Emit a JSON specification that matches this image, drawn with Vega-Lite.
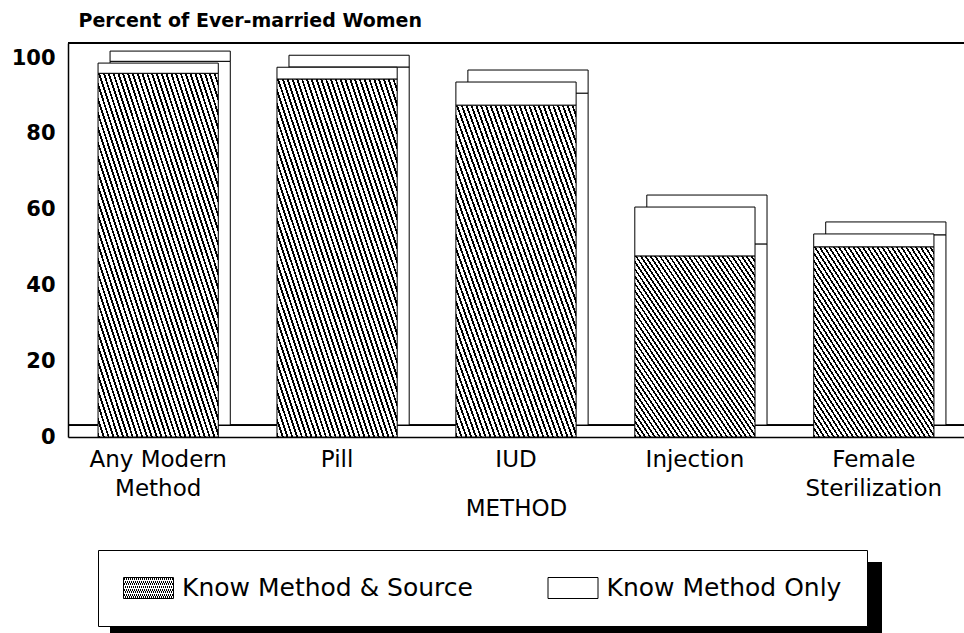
{
  "$schema": "https://vega.github.io/schema/vega-lite/v6.json",
  "width": 896,
  "height": 394,
  "autosize": {"type": "none"},
  "padding": {"left": 68, "top": 43, "right": 0, "bottom": 196},
  "background": "white",
  "data": {
    "values": [
      {"method": "Any Modern Method", "series": "Know Method & Source", "value": 96.0},
      {"method": "Any Modern Method", "series": "Know Method Only", "value": 2.7},
      {"method": "Pill", "series": "Know Method & Source", "value": 94.5},
      {"method": "Pill", "series": "Know Method Only", "value": 3.1},
      {"method": "IUD", "series": "Know Method & Source", "value": 87.6},
      {"method": "IUD", "series": "Know Method Only", "value": 6.1},
      {"method": "Injection", "series": "Know Method & Source", "value": 47.8},
      {"method": "Injection", "series": "Know Method Only", "value": 12.9},
      {"method": "Female Sterilization", "series": "Know Method & Source", "value": 50.2},
      {"method": "Female Sterilization", "series": "Know Method Only", "value": 3.4}
    ]
  },
  "layer": [
    {
      "mark": {"type": "rule", "color": "black", "strokeWidth": 1},
      "encoding": {"y": {"datum": 3.1}}
    },
    {
      "mark": {"type": "rule", "color": "black", "strokeWidth": 1.5},
      "encoding": {"y": {"datum": 104}}
    },
    {
      "mark": {"type": "bar", "fill": "white", "stroke": "black", "strokeWidth": 1, "xOffset": 12, "yOffset": -12},
      "encoding": {
        "x": {"field": "method", "type": "nominal", "sort": ["Any Modern Method", "Pill", "IUD", "Injection", "Female Sterilization"]},
        "y": {"field": "value", "type": "quantitative", "stack": "zero"},
        "detail": {"field": "series"},
        "order": {"field": "series", "sort": "ascending"}
      }
    },
    {
      "mark": {"type": "bar", "strokeWidth": 1},
      "encoding": {
        "x": {
          "field": "method", "type": "nominal",
          "sort": ["Any Modern Method", "Pill", "IUD", "Injection", "Female Sterilization"],
          "scale": {"paddingInner": 0.328, "paddingOuter": 0.168},
          "axis": {
            "title": "METHOD", "titleFontSize": 23, "titleFontWeight": "normal", "titleColor": "black",
            "titleY": 71, "titleBaseline": "middle",
            "labelFontSize": 23, "labelColor": "black", "labelPadding": 22, "labelLineHeight": 29,
            "labelAngle": 0, "labelAlign": "center", "labelOverlap": false, "labelLimit": 0, "ticks": false,
            "domain": true, "domainColor": "black", "domainWidth": 1.5,
            "labelExpr": "datum.value == 'Any Modern Method' ? ['Any Modern', 'Method'] : datum.value == 'Female Sterilization' ? ['Female', 'Sterilization'] : datum.value"
          }
        },
        "y": {
          "field": "value", "type": "quantitative", "stack": "zero",
          "scale": {"domain": [0, 104], "nice": false},
          "axis": {
            "values": [0, 20, 40, 60, 80, 100],
            "title": "Percent of Ever-married Women", "titleAngle": 0, "titleAlign": "left", "titleBaseline": "middle",
            "titleX": 10, "titleY": -23, "titleFontSize": 19, "titleFontWeight": "bold", "titleColor": "black",
            "labelFontSize": 21, "labelFontWeight": "bold", "labelColor": "black", "labelPadding": 13,
            "ticks": false, "domain": true, "domainColor": "black", "domainWidth": 1.5, "grid": false
          }
        },
        "order": {"field": "series", "sort": "ascending"},
        "fill": {
          "field": "series", "type": "nominal",
          "scale": {
            "domain": ["Know Method & Source", "Know Method Only"],
            "range": [
              {"expr": "{gradient:'linear',x1:0,y1:1,x2:1,y2:0,stops:[{offset:0,color:'#000'},{offset:0.008,color:'#000'},{offset:0.008,color:'#fff'},{offset:0.02,color:'#fff'},{offset:0.02,color:'#000'},{offset:0.028,color:'#000'},{offset:0.028,color:'#fff'},{offset:0.04,color:'#fff'},{offset:0.04,color:'#000'},{offset:0.048,color:'#000'},{offset:0.048,color:'#fff'},{offset:0.06,color:'#fff'},{offset:0.06,color:'#000'},{offset:0.068,color:'#000'},{offset:0.068,color:'#fff'},{offset:0.08,color:'#fff'},{offset:0.08,color:'#000'},{offset:0.088,color:'#000'},{offset:0.088,color:'#fff'},{offset:0.1,color:'#fff'},{offset:0.1,color:'#000'},{offset:0.108,color:'#000'},{offset:0.108,color:'#fff'},{offset:0.12,color:'#fff'},{offset:0.12,color:'#000'},{offset:0.128,color:'#000'},{offset:0.128,color:'#fff'},{offset:0.14,color:'#fff'},{offset:0.14,color:'#000'},{offset:0.148,color:'#000'},{offset:0.148,color:'#fff'},{offset:0.16,color:'#fff'},{offset:0.16,color:'#000'},{offset:0.168,color:'#000'},{offset:0.168,color:'#fff'},{offset:0.18,color:'#fff'},{offset:0.18,color:'#000'},{offset:0.188,color:'#000'},{offset:0.188,color:'#fff'},{offset:0.2,color:'#fff'},{offset:0.2,color:'#000'},{offset:0.208,color:'#000'},{offset:0.208,color:'#fff'},{offset:0.22,color:'#fff'},{offset:0.22,color:'#000'},{offset:0.228,color:'#000'},{offset:0.228,color:'#fff'},{offset:0.24,color:'#fff'},{offset:0.24,color:'#000'},{offset:0.248,color:'#000'},{offset:0.248,color:'#fff'},{offset:0.26,color:'#fff'},{offset:0.26,color:'#000'},{offset:0.268,color:'#000'},{offset:0.268,color:'#fff'},{offset:0.28,color:'#fff'},{offset:0.28,color:'#000'},{offset:0.288,color:'#000'},{offset:0.288,color:'#fff'},{offset:0.3,color:'#fff'},{offset:0.3,color:'#000'},{offset:0.308,color:'#000'},{offset:0.308,color:'#fff'},{offset:0.32,color:'#fff'},{offset:0.32,color:'#000'},{offset:0.328,color:'#000'},{offset:0.328,color:'#fff'},{offset:0.34,color:'#fff'},{offset:0.34,color:'#000'},{offset:0.348,color:'#000'},{offset:0.348,color:'#fff'},{offset:0.36,color:'#fff'},{offset:0.36,color:'#000'},{offset:0.368,color:'#000'},{offset:0.368,color:'#fff'},{offset:0.38,color:'#fff'},{offset:0.38,color:'#000'},{offset:0.388,color:'#000'},{offset:0.388,color:'#fff'},{offset:0.4,color:'#fff'},{offset:0.4,color:'#000'},{offset:0.408,color:'#000'},{offset:0.408,color:'#fff'},{offset:0.42,color:'#fff'},{offset:0.42,color:'#000'},{offset:0.428,color:'#000'},{offset:0.428,color:'#fff'},{offset:0.44,color:'#fff'},{offset:0.44,color:'#000'},{offset:0.448,color:'#000'},{offset:0.448,color:'#fff'},{offset:0.46,color:'#fff'},{offset:0.46,color:'#000'},{offset:0.468,color:'#000'},{offset:0.468,color:'#fff'},{offset:0.48,color:'#fff'},{offset:0.48,color:'#000'},{offset:0.488,color:'#000'},{offset:0.488,color:'#fff'},{offset:0.5,color:'#fff'},{offset:0.5,color:'#000'},{offset:0.508,color:'#000'},{offset:0.508,color:'#fff'},{offset:0.52,color:'#fff'},{offset:0.52,color:'#000'},{offset:0.528,color:'#000'},{offset:0.528,color:'#fff'},{offset:0.54,color:'#fff'},{offset:0.54,color:'#000'},{offset:0.548,color:'#000'},{offset:0.548,color:'#fff'},{offset:0.56,color:'#fff'},{offset:0.56,color:'#000'},{offset:0.568,color:'#000'},{offset:0.568,color:'#fff'},{offset:0.58,color:'#fff'},{offset:0.58,color:'#000'},{offset:0.588,color:'#000'},{offset:0.588,color:'#fff'},{offset:0.6,color:'#fff'},{offset:0.6,color:'#000'},{offset:0.608,color:'#000'},{offset:0.608,color:'#fff'},{offset:0.62,color:'#fff'},{offset:0.62,color:'#000'},{offset:0.628,color:'#000'},{offset:0.628,color:'#fff'},{offset:0.64,color:'#fff'},{offset:0.64,color:'#000'},{offset:0.648,color:'#000'},{offset:0.648,color:'#fff'},{offset:0.66,color:'#fff'},{offset:0.66,color:'#000'},{offset:0.668,color:'#000'},{offset:0.668,color:'#fff'},{offset:0.68,color:'#fff'},{offset:0.68,color:'#000'},{offset:0.688,color:'#000'},{offset:0.688,color:'#fff'},{offset:0.7,color:'#fff'},{offset:0.7,color:'#000'},{offset:0.708,color:'#000'},{offset:0.708,color:'#fff'},{offset:0.72,color:'#fff'},{offset:0.72,color:'#000'},{offset:0.728,color:'#000'},{offset:0.728,color:'#fff'},{offset:0.74,color:'#fff'},{offset:0.74,color:'#000'},{offset:0.748,color:'#000'},{offset:0.748,color:'#fff'},{offset:0.76,color:'#fff'},{offset:0.76,color:'#000'},{offset:0.768,color:'#000'},{offset:0.768,color:'#fff'},{offset:0.78,color:'#fff'},{offset:0.78,color:'#000'},{offset:0.788,color:'#000'},{offset:0.788,color:'#fff'},{offset:0.8,color:'#fff'},{offset:0.8,color:'#000'},{offset:0.808,color:'#000'},{offset:0.808,color:'#fff'},{offset:0.82,color:'#fff'},{offset:0.82,color:'#000'},{offset:0.828,color:'#000'},{offset:0.828,color:'#fff'},{offset:0.84,color:'#fff'},{offset:0.84,color:'#000'},{offset:0.848,color:'#000'},{offset:0.848,color:'#fff'},{offset:0.86,color:'#fff'},{offset:0.86,color:'#000'},{offset:0.868,color:'#000'},{offset:0.868,color:'#fff'},{offset:0.88,color:'#fff'},{offset:0.88,color:'#000'},{offset:0.888,color:'#000'},{offset:0.888,color:'#fff'},{offset:0.9,color:'#fff'},{offset:0.9,color:'#000'},{offset:0.908,color:'#000'},{offset:0.908,color:'#fff'},{offset:0.92,color:'#fff'},{offset:0.92,color:'#000'},{offset:0.928,color:'#000'},{offset:0.928,color:'#fff'},{offset:0.94,color:'#fff'},{offset:0.94,color:'#000'},{offset:0.948,color:'#000'},{offset:0.948,color:'#fff'},{offset:0.96,color:'#fff'},{offset:0.96,color:'#000'},{offset:0.968,color:'#000'},{offset:0.968,color:'#fff'},{offset:0.98,color:'#fff'},{offset:0.98,color:'#000'},{offset:0.988,color:'#000'},{offset:0.988,color:'#fff'},{offset:1,color:'#fff'}]}"},
              "white"
            ]
          },
          "legend": {
            "title": null, "orient": "none", "legendX": 30, "legendY": 507, "zindex": 2,
            "direction": "horizontal", "columns": 2, "columnPadding": 72.5,
            "labelFont": "DejaVu Sans", "labelFontSize": 25, "labelColor": "black", "labelOffset": 33, "labelLimit": 0,
            "symbolType": "M-1,-0.84H3V0.84H-1Z", "symbolSize": 625,
            "symbolStrokeColor": "black", "symbolStrokeWidth": 1, "symbolOpacity": 1,
            "padding": 25, "fillColor": "white", "strokeColor": "black"
          }
        },
        "stroke": {
          "field": "series", "type": "nominal",
          "scale": {"domain": ["Know Method Only", "Know Method & Source"], "range": ["black", "black"]},
          "legend": {
            "title": null, "orient": "none", "legendX": 42, "legendY": 519, "zindex": 1,
            "values": ["Know Method Only"], "labelExpr": "''",
            "labelFontSize": 25, "labelOffset": 0,
            "symbolType": "M-1,-1H60.76V5H-1Z", "symbolSize": 625,
            "symbolStrokeColor": "black", "symbolFillColor": "black", "symbolStrokeWidth": 0, "symbolOpacity": 1,
            "padding": 0
          }
        }
      }
    }
  ],
  "config": {
    "font": "DejaVu Sans",
    "view": {"stroke": null},
    "axis": {"labelFont": "DejaVu Sans", "titleFont": "DejaVu Sans"}
  }
}
